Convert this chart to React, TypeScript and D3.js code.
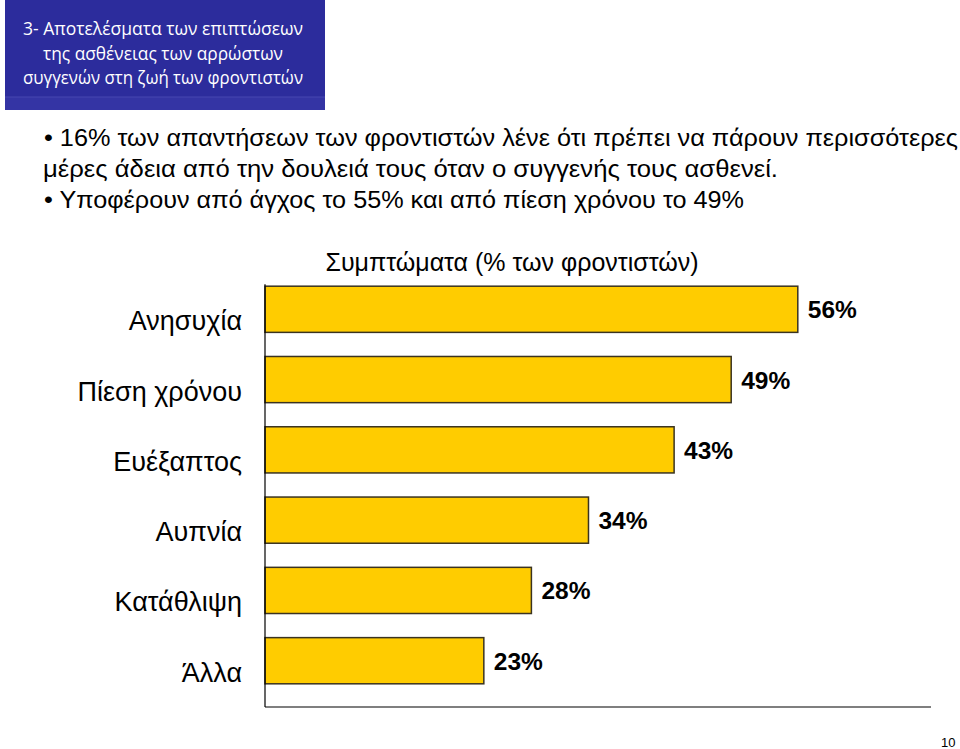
import React from "react";
import * as d3 from "d3";

const categories = ["Ανησυχία", "Πίεση χρόνου", "Ευέξαπτος", "Αυπνία", "Κατάθλιψη", "Άλλα"];
const values = [56, 49, 43, 34, 28, 23];
const valueLabels = ["56%", "49%", "43%", "34%", "28%", "23%"];
const titleLines = [
  "3- Αποτελέσματα των επιπτώσεων",
  "της ασθένειας των αρρώστων",
  "συγγενών στη ζωή των φροντιστών",
];
const bulletLines = [
  "• 16% των απαντήσεων των φροντιστών λένε ότι πρέπει να πάρουν περισσότερες",
  "μέρες άδεια από την δουλειά τους όταν ο συγγενής τους ασθενεί.",
  "• Υποφέρουν από άγχος το 55% και από πίεση χρόνου το 49%",
];
const chartTitle = "Συμπτώματα  (% των φροντιστών)";

export default function App() {
  const W = 960, H = 749;
  const x = d3.scaleLinear().domain([0, 70]).range([265, 931]);
  const y = d3.scaleBand<string>().domain(categories).range([263, 707]).paddingInner(0.343).paddingOuter(0.33);
  const arial = "'Liberation Sans', Arial, sans-serif";
  const titleWidths = [280, 240, 280];
  const bulletWidths = [914, 735, 700];
  return (
    <svg width={W} height={H} style={{ position: "absolute", left: 0, top: 0, background: "#fff" }}>
      {/* title box */}
      <rect x={5} y={0} width={320} height={110} fill="#2C2C9C" />
      <rect x={5} y={97} width={320} height={13} fill="#3434A4" />
      <line x1={5} x2={325} y1={97} y2={97} stroke="#4646B0" strokeWidth={1} />
      {titleLines.map((t, i) => (
        <text key={i} x={163} y={35 + i * 24.5} textAnchor="middle" fill="#fff"
          fontFamily="'Open Sans', sans-serif" fontSize={19}
          textLength={titleWidths[i]} lengthAdjust="spacingAndGlyphs">{t}</text>
      ))}
      {/* bullets */}
      {bulletLines.map((t, i) => (
        <text key={i} x={i === 1 ? 43 : 44} y={146 + i * 31} fill="#000" fontFamily={arial} fontSize={24}
          textLength={bulletWidths[i]} lengthAdjust="spacingAndGlyphs">{t}</text>
      ))}
      {/* chart title */}
      <text x={512} y={271} textAnchor="middle" fontFamily={arial} fontSize={25} fill="#000">{chartTitle}</text>
      {/* bars */}
      {categories.map((c, i) => {
        const y0 = y(c)!;
        const bh = y.bandwidth();
        return (
          <g key={c}>
            <rect x={x(0)} y={y0} width={x(values[i]) - x(0)} height={bh}
              fill="#FFCC00" stroke="#3A3320" strokeWidth={1.5} />
            <text x={x(values[i]) + 10} y={y0 + bh / 2 + 9} fontFamily={arial} fontWeight="bold"
              fontSize={24.5} fill="#000">{valueLabels[i]}</text>
            <text x={242} y={y0 + bh / 2 + 21} textAnchor="end" fontFamily={arial} fontSize={27}
              fill="#000">{c}</text>
          </g>
        );
      })}
      {/* axes */}
      <line x1={x(0)} x2={x(0)} y1={y(categories[0])! - 2} y2={707} stroke="#000" strokeWidth={1.2} />
      <line x1={x(0)} x2={x(70)} y1={707} y2={707} stroke="#000" strokeWidth={1.2} />
      <text x={941} y={747} fontFamily={arial} fontSize={13} fill="#000">10</text>
    </svg>
  );
}
